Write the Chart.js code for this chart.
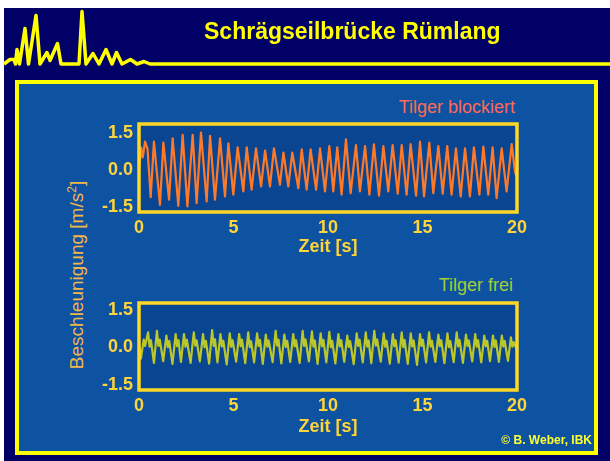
<!DOCTYPE html>
<html>
<head>
<meta charset="utf-8">
<script src="https://cdn.jsdelivr.net/npm/chart.js"></script>
<style>
  body { margin: 0; background: #ffffff; }
  #page { position: relative; width: 610px; height: 461px; overflow: hidden; font-family: "Liberation Sans", Arial, Helvetica, sans-serif; }
  #slide { position: absolute; left: 4px; top: 8px; width: 606px; height: 453px; background: #000066; }
  #box { position: absolute; left: 15px; top: 80px; width: 583px; height: 375px; box-sizing: border-box; border: 4px solid #ffff00; background: #0e52a2; }
  .abs { position: absolute; white-space: nowrap; line-height: 1; }
  #title { left: 204px; top: 20px; font-size: 23px; font-weight: bold; color: #ffff00; }
  #labelTop { right: 95px; top: 98px; font-size: 18px; color: #ff6a50; }
  #labelBot { right: 97px; top: 276px; font-size: 18px; color: #a2cc3a; }
  #yTitle { left: 76px; top: 275px; font-size: 19px; color: #f2b64a; transform: translate(-50%, -50%) rotate(-90deg); }
  #yTitle sup { font-size: 12px; }
  #copy { right: 18px; top: 434px; font-size: 12px; font-weight: bold; color: #ffff30; }
  canvas { position: absolute; }
</style>
</head>
<body>
<div id="page">
  <div id="slide"></div>
  <canvas id="logo" width="610" height="72" style="left:0;top:0"></canvas>
  <div id="title" class="abs">Schrägseilbrücke Rümlang</div>
  <div id="box"></div>
  <div id="labelTop" class="abs">Tilger blockiert</div>
  <div id="labelBot" class="abs">Tilger frei</div>
  <div id="yTitle" class="abs">Beschleunigung [m/s<sup>2</sup>]</div>
  <canvas id="chartTop" width="570" height="160" style="left:20px;top:100px"></canvas>
  <canvas id="chartBot" width="570" height="160" style="left:20px;top:280px"></canvas>
  <div id="copy" class="abs">© B. Weber, IBK</div>
</div>
<script>
// header logo: spike trace, x in px, height above the header line
const logoX = [4, 10, 14, 15.5, 17, 19.5, 25, 28.5, 36, 40, 47, 50, 57.5, 61, 79, 82, 86, 93, 99, 106, 112, 116.5, 122, 130.5, 137, 144, 150, 610];
const logoY = [0, 4.5, 4.5, 0, 14.5, 0, 35.5, 0, 48.5, 0, 11.5, 3.5, 20.5, 0, 0, 52.5, 0, 10.5, 0, 14.5, 0, 11.5, 0, 4.5, 0, 2.5, 0, 0];

const xTicks = [0, 5, 10, 15, 20];
const yTicks = [-1.5, 0, 1.5];

// Tilger blockiert (time s, acceleration m/s2)
const topTime = [
  0, 0.12, 0.2, 0.32, 0.45, 0.62,
  0.79, 1.11, 1.29, 1.59, 1.78, 2.08, 2.31, 2.56, 2.84, 3.05,
  3.28, 3.58, 3.76, 4.02, 4.29, 4.55, 4.73, 4.99, 5.22, 5.52,
  5.70, 5.96, 6.19, 6.46, 6.67, 6.93, 7.14, 7.46, 7.64, 7.90,
  8.11, 8.43, 8.61, 8.87, 9.08, 9.37, 9.58, 9.84, 10.07, 10.28,
  10.49, 10.72, 10.95, 11.20, 11.48, 11.69, 11.96, 12.19, 12.43, 12.70,
  12.93, 13.19, 13.42, 13.69, 13.90, 14.16, 14.37, 14.66, 14.87, 15.08,
  15.36, 15.57, 15.84, 16.07, 16.31, 16.54, 16.77, 17.02, 17.25, 17.51,
  17.72, 18.01, 18.22, 18.48, 18.71, 18.92, 19.19, 19.45, 19.72, 19.9, 20
];
const topAccel = [
  0, 0.9, 0.5, 1.14, 0.85, -1.10,
  1.14, -1.41, 1.10, -1.20, 1.27, -1.45, 1.41, -1.47, 1.41, -1.34,
  1.50, -1.27, 1.37, -1.20, 1.27, -1.07, 1.07, -1.00, 0.91, -0.87,
  0.91, -0.80, 0.87, -0.67, 0.78, -0.67, 0.87, -0.60, 0.70, -0.67,
  0.70, -0.74, 0.83, -0.80, 0.83, -0.80, 0.87, -0.87, 0.96, -0.87,
  0.91, -1.00, 1.23, -0.94, 1.00, -0.87, 0.96, -1.00, 1.03, -1.04,
  0.96, -0.87, 1.00, -0.96, 1.00, -1.00, 1.04, -1.04, 1.14, -1.07,
  1.10, -0.94, 0.96, -0.96, 0.96, -1.00, 0.87, -1.07, 0.87, -1.07,
  0.91, -1.00, 0.94, -1.00, 0.91, -1.14, 0.87, -0.87, 1.04, -0.1, -0.3
];

// Tilger frei
const botTime = [
  0, 0.10, 0.25, 0.32,
  0.48, 0.56, 0.63, 0.79,
  0.95, 1.03, 1.10, 1.28,
  1.45, 1.53, 1.60, 1.77,
  1.94, 2.02, 2.09, 2.22,
  2.38, 2.46, 2.53, 2.73,
  2.90, 2.98, 3.05, 3.22,
  3.39, 3.47, 3.54, 3.71,
  3.87, 3.95, 4.02, 4.15,
  4.31, 4.39, 4.46, 4.64,
  4.80, 4.88, 4.95, 5.14,
  5.30, 5.38, 5.45, 5.62,
  5.78, 5.86, 5.93, 6.09,
  6.25, 6.33, 6.40, 6.55,
  6.71, 6.79, 6.86, 7.07,
  7.23, 7.31, 7.38, 7.53,
  7.69, 7.77, 7.84, 8.00,
  8.16, 8.24, 8.31, 8.50,
  8.66, 8.74, 8.81, 8.99,
  9.15, 9.23, 9.30, 9.45,
  9.61, 9.69, 9.76, 9.91,
  10.07, 10.15, 10.22, 10.39,
  10.55, 10.63, 10.70, 10.86,
  11.02, 11.10, 11.17, 11.36,
  11.52, 11.60, 11.67, 11.84,
  12.00, 12.08, 12.15, 12.29,
  12.45, 12.53, 12.60, 12.79,
  12.95, 13.03, 13.10, 13.27,
  13.43, 13.51, 13.58, 13.74,
  13.90, 13.98, 14.05, 14.22,
  14.38, 14.46, 14.53, 14.71,
  14.87, 14.95, 15.02, 15.19,
  15.35, 15.43, 15.50, 15.68,
  15.84, 15.92, 15.99, 16.16,
  16.32, 16.40, 16.47, 16.65,
  16.81, 16.89, 16.96, 17.14,
  17.30, 17.38, 17.45, 17.63,
  17.79, 17.87, 17.94, 18.11,
  18.27, 18.35, 18.42, 18.57,
  18.73, 18.81, 18.88, 19.04,
  19.20, 19.28, 19.35, 19.52,
  19.68, 19.76, 19.83, 20.00
];
const botAccel = [
  0.05, -0.45, 0.30, 0.05,
  0.59, 0.02, 0.28, -0.62,
  0.65, 0.05, 0.30, -0.55,
  0.46, 0.00, 0.25, -0.66,
  0.52, 0.04, 0.28, -0.58,
  0.52, 0.02, 0.30, -0.62,
  0.59, 0.06, 0.27, -0.56,
  0.52, 0.00, 0.25, -0.65,
  0.68, 0.05, 0.32, -0.60,
  0.52, 0.03, 0.26, -0.68,
  0.55, 0.02, 0.28, -0.57,
  0.52, 0.04, 0.30, -0.63,
  0.59, 0.00, 0.24, -0.60,
  0.55, 0.05, 0.29, -0.66,
  0.50, 0.02, 0.27, -0.59,
  0.65, 0.06, 0.30, -0.64,
  0.50, 0.01, 0.26, -0.58,
  0.52, 0.03, 0.28, -0.62,
  0.65, 0.05, 0.31, -0.56,
  0.63, 0.02, 0.27, -0.66,
  0.55, 0.04, 0.29, -0.60,
  0.61, 0.00, 0.26, -0.64,
  0.52, 0.03, 0.28, -0.58,
  0.46, 0.01, 0.25, -0.67,
  0.55, 0.05, 0.30, -0.60,
  0.59, 0.02, 0.27, -0.63,
  0.65, 0.06, 0.31, -0.57,
  0.55, 0.02, 0.26, -0.65,
  0.52, 0.04, 0.28, -0.61,
  0.59, 0.01, 0.29, -0.66,
  0.55, 0.03, 0.27, -0.70,
  0.52, 0.05, 0.30, -0.60,
  0.59, 0.02, 0.26, -0.58,
  0.50, 0.04, 0.28, -0.63,
  0.55, 0.00, 0.25, -0.59,
  0.59, 0.03, 0.29, -0.62,
  0.50, 0.05, 0.27, -0.56,
  0.52, 0.02, 0.28, -0.60,
  0.46, 0.04, 0.26, -0.55,
  0.46, 0.01, 0.27, -0.58,
  0.46, 0.03, 0.25, -0.54,
  0.39, 0.02, 0.20, -0.10
];

const fontFamily = '"Liberation Sans", Arial, Helvetica, sans-serif';
const tickColor = "#ffd43a";
const plotBg = "#0a4592";
const frameColor = "#ffd726";

Chart.defaults.font.family = fontFamily;

const toPoints = (xs, ys) => xs.map((x, i) => ({ x, y: ys[i] }));

const plotFrame = {
  id: "plotFrame",
  beforeDatasetsDraw: (chart) => {
    const { ctx, chartArea: a } = chart;
    ctx.save();
    ctx.fillStyle = plotBg;
    ctx.fillRect(a.left, a.top, a.width, a.height);
    ctx.restore();
  },
  afterDatasetsDraw: (chart) => {
    const { ctx, chartArea: a } = chart;
    ctx.save();
    ctx.strokeStyle = frameColor;
    ctx.lineWidth = 3.5;
    ctx.strokeRect(a.left, a.top, a.width, a.height);
    ctx.restore();
  },
};

const renderSignal = (id, times, values, color, yMin, yMax, padTop, xHeight) => {
  new Chart(document.getElementById(id), {
    type: "line",
    data: {
      datasets: [
        {
          data: toPoints(times, values),
          borderColor: color,
          borderWidth: 2.2,
          borderJoinStyle: "round",
          pointRadius: 0,
          tension: 0,
        },
      ],
    },
    options: {
      responsive: false,
      animation: false,
      layout: { padding: { top: padTop, right: 73, left: 0, bottom: 0 } },
      plugins: { legend: { display: false }, tooltip: { enabled: false } },
      scales: {
        x: {
          type: "linear",
          min: 0,
          max: 20,
          grid: { display: false, drawTicks: false },
          border: { display: false },
          afterBuildTicks: (s) => { s.ticks = xTicks.map((v) => ({ value: v })); },
          ticks: { color: tickColor, padding: 5, maxRotation: 0, font: { size: 18, weight: "bold" } },
          title: {
            display: true,
            text: "Zeit [s]",
            color: tickColor,
            padding: { top: 0, bottom: 2 },
            font: { size: 18, weight: "bold" },
          },
          afterFit: (s) => { s.height = xHeight; },
        },
        y: {
          type: "linear",
          min: yMin,
          max: yMax,
          grid: { display: false, drawTicks: false },
          border: { display: false },
          afterBuildTicks: (s) => { s.ticks = yTicks.map((v) => ({ value: v })); },
          ticks: {
            color: tickColor,
            padding: 6,
            font: { size: 18, weight: "bold" },
            callback: (v) => v.toFixed(1),
          },
          afterFit: (s) => { s.width = 119; },
        },
      },
    },
    plugins: [plotFrame],
  });
};

const renderLogo = () => {
  new Chart(document.getElementById("logo"), {
    type: "line",
    data: {
      datasets: [
        {
          data: toPoints(logoX, logoY),
          borderColor: "#ffff00",
          borderWidth: 3.5,
          borderJoinStyle: "round",
          pointRadius: 0,
          tension: 0,
          clip: false,
        },
      ],
    },
    options: {
      responsive: false,
      animation: false,
      layout: { padding: 0 },
      plugins: { legend: { display: false }, tooltip: { enabled: false } },
      scales: {
        x: { type: "linear", min: 0, max: 610, display: false },
        y: { type: "linear", min: -8, max: 64, display: false },
      },
    },
  });
};

renderLogo();
renderSignal("chartTop", topTime, topAccel, "#ff7a28", -1.7, 1.85, 24, 48);
renderSignal("chartBot", botTime, botAccel, "#bcc82a", -1.7, 1.76, 23, 50);
</script>
</body>
</html>
